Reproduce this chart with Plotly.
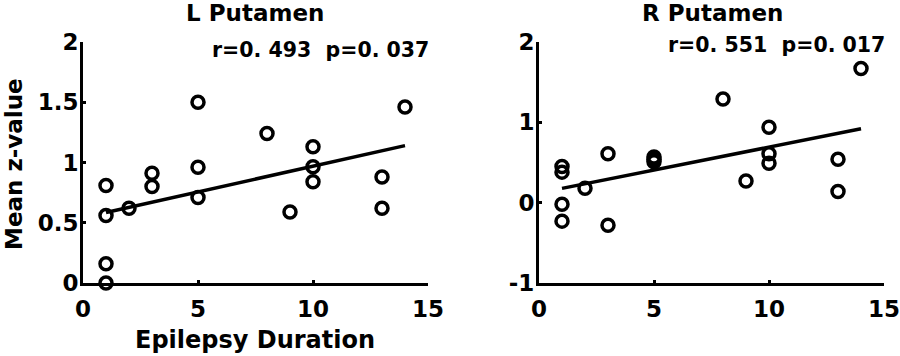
import plotly.graph_objects as go

# Data
duration = [1, 1, 1, 1, 2, 3, 3, 5, 5, 5, 8, 9, 10, 10, 10, 13, 13, 14]
l_putamen = [0.81, 0.56, 0.16, 0.0, 0.62, 0.80, 0.91, 0.71, 0.96, 1.50, 1.24, 0.59, 1.13, 0.965, 0.84, 0.88, 0.62, 1.46]
r_putamen = [0.45, 0.38, -0.02, -0.23, 0.18, -0.28, 0.61, 0.51, 0.54, 0.57, 1.29, 0.27, 0.94, 0.61, 0.49, 0.54, 0.14, 1.67]

fit_x = [1, 14]
l_fit_y = [0.585, 1.14]
r_fit_y = [0.178, 0.92]

x_ticks = [0, 5, 10, 15]
l_y_ticks = [0, 0.5, 1, 1.5, 2]
l_y_ticklabels = ["0", "0.5", "1", "1.5", "2"]
r_y_ticks = [-1, 0, 1, 2]
r_y_ticklabels = ["-1", "0", "1", "2"]

titles = ["L Putamen", "R Putamen"]
stats = ["r=0. 493  p=0. 037", "r=0. 551  p=0. 017"]
x_title = "Epilepsy Duration"
y_title = "Mean z-value"

FONT = "DejaVu Sans"

fig = go.Figure()

marker = dict(symbol="circle-open", size=12, color="black", line=dict(width=3.5, color="black"))

fig.add_trace(go.Scatter(x=duration, y=l_putamen, mode="markers", marker=marker,
                         xaxis="x", yaxis="y", cliponaxis=False, showlegend=False))
fig.add_trace(go.Scatter(x=fit_x, y=l_fit_y, mode="lines", line=dict(color="black", width=3.5),
                         xaxis="x", yaxis="y", showlegend=False))
fig.add_trace(go.Scatter(x=duration, y=r_putamen, mode="markers", marker=marker,
                         xaxis="x2", yaxis="y2", cliponaxis=False, showlegend=False))
fig.add_trace(go.Scatter(x=fit_x, y=r_fit_y, mode="lines", line=dict(color="black", width=3.5),
                         xaxis="x2", yaxis="y2", showlegend=False))

W, H = 900, 356
ydom = [(H - 283) / H, (H - 42) / H]

tickfont = dict(family=FONT, size=23, color="black", weight="bold")
common_x = dict(range=[0, 15], tickvals=x_ticks, showgrid=False, zeroline=False,
                showline=True, linecolor="black", linewidth=3, ticks="inside",
                ticklen=3, tickwidth=3, tickcolor="black", tickfont=tickfont,
                automargin=False, ticklabelstandoff=3, ticklabeloverflow="allow")
common_y = dict(showgrid=False, zeroline=False, showline=True, linecolor="black",
                linewidth=3, ticks="inside", ticklen=3, tickwidth=3, tickcolor="black",
                tickfont=tickfont, automargin=False, ticklabelstandoff=-3,
                ticklabeloverflow="allow")

fig.update_layout(
    width=W, height=H,
    margin=dict(l=0, r=0, t=0, b=0),
    paper_bgcolor="white", plot_bgcolor="white",
    xaxis=dict(domain=[83 / W, 428 / W], anchor="y", **common_x),
    yaxis=dict(domain=ydom, anchor="x", range=[0, 2], tickvals=l_y_ticks, ticktext=l_y_ticklabels,
               **common_y),
    xaxis2=dict(domain=[539 / W, 884 / W], anchor="y2", **common_x),
    yaxis2=dict(domain=ydom, anchor="x2", range=[-1, 2], tickvals=r_y_ticks,
                ticktext=r_y_ticklabels, **common_y),
)

title_font = dict(family=FONT, size=23, color="black", weight="bold")
stat_font = dict(family=FONT, size=20.5, color="black", weight="bold")
fig.add_annotation(text=titles[0], x=255 / W, y=1 - 13 / H, xref="paper", yref="paper",
                   showarrow=False, font=title_font, xanchor="center", yanchor="middle")
fig.add_annotation(text=titles[1], x=712 / W, y=1 - 13 / H, xref="paper", yref="paper",
                   showarrow=False, font=title_font, xanchor="center", yanchor="middle")
fig.add_annotation(text=stats[0], x=431 / W, y=1 - 50 / H, xref="paper", yref="paper",
                   showarrow=False, font=stat_font, xanchor="right", yanchor="middle")
fig.add_annotation(text=stats[1], x=887 / W, y=1 - 45 / H, xref="paper", yref="paper",
                   showarrow=False, font=stat_font, xanchor="right", yanchor="middle")
fig.add_annotation(text=x_title, x=255 / W, y=1 - 340 / H, xref="paper", yref="paper",
                   showarrow=False, font=dict(family=FONT, size=24, color="black", weight="bold"),
                   xanchor="center", yanchor="middle")
fig.add_annotation(text=y_title, x=14 / W, y=1 - 164 / H, xref="paper", yref="paper",
                   showarrow=False, textangle=-90,
                   font=dict(family=FONT, size=23, color="black", weight="bold"),
                   xanchor="center", yanchor="middle")

fig.write_html("out.html", config={"displayModeBar": False},
               post_script="document.body.style.margin='0px';document.body.style.overflow='hidden';")
